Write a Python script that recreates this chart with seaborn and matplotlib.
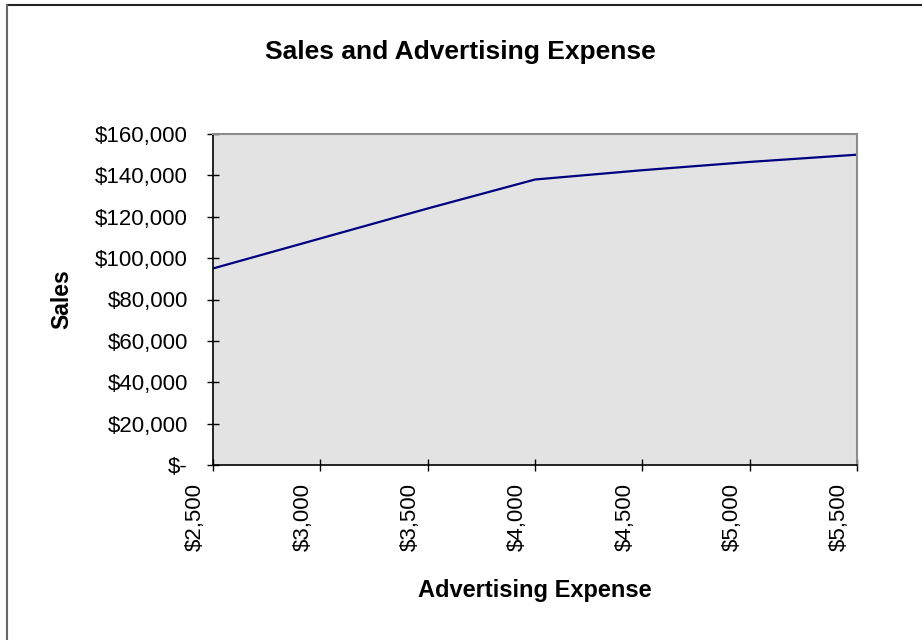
import matplotlib
matplotlib.use("Agg")
import matplotlib.pyplot as plt
from matplotlib.lines import Line2D
from matplotlib.ticker import FuncFormatter
from matplotlib.transforms import ScaledTranslation
import pandas as pd
import seaborn as sns

# Advertising spend and resulting sales
advertising = [2500, 3000, 3500, 4000, 4500, 5000, 5500]
sales = [95000, 109500, 124000, 138000, 142500, 146500, 150000]

x_ticks = [2500, 3000, 3500, 4000, 4500, 5000, 5500]
y_ticks = [0, 20000, 40000, 60000, 80000, 100000, 120000, 140000, 160000]

df = pd.DataFrame({"Advertising Expense": advertising, "Sales": sales})

sns.set_style("white")
plt.rcParams["font.family"] = ["Liberation Sans", "DejaVu Sans"]
plt.rcParams["text.color"] = "black"
plt.rcParams["axes.labelcolor"] = "black"
plt.rcParams["xtick.color"] = "black"
plt.rcParams["ytick.color"] = "black"

fig = plt.figure(figsize=(9.22, 6.40), dpi=100)
ax = fig.add_axes([213 / 922, 1 - 465 / 640, (857 - 213) / 922, (465 - 134) / 640])
ax.set_facecolor("#e3e3e3")

sns.lineplot(data=df, x="Advertising Expense", y="Sales", ax=ax,
             color="#000080", linewidth=1.6)

ax.set_xlim(2500, 5500)
ax.set_ylim(0, 160000)
ax.set_xticks(x_ticks)
ax.set_yticks(y_ticks)


def dollars(v, _pos):
    return "$-" if v == 0 else f"${v:,.0f}"


ax.xaxis.set_major_formatter(FuncFormatter(dollars))
ax.yaxis.set_major_formatter(FuncFormatter(dollars))
ax.tick_params(axis="x", labelsize=16, direction="inout", labelcolor="black",
               length=8, width=1, color="black", pad=9)
ax.tick_params(axis="y", labelsize=16, direction="inout", labelcolor="black",
               length=8, width=1, color="black", pad=14)
ax.xaxis.set_ticks_position("bottom")
ax.yaxis.set_ticks_position("left")

# Rotated x labels sit just left of their tick marks
shift = ScaledTranslation(-7 / 100, 0, fig.dpi_scale_trans)
for lbl in ax.get_xticklabels():
    lbl.set_rotation(90)
    lbl.set_ha("right")
    lbl.set_va("top")
    lbl.set_transform(lbl.get_transform() + shift)

for side in ("left", "bottom"):
    ax.spines[side].set_color("black")
    ax.spines[side].set_linewidth(1.2)
for side in ("top", "right"):
    ax.spines[side].set_color("#8c8c8c")
    ax.spines[side].set_linewidth(1.5)

ax.set_xlabel("Advertising Expense", fontsize=17, fontweight="bold", color="black")
ax.set_ylabel("Sales", fontsize=16.5, fontweight="bold", color="black")
ax.xaxis.set_label_coords((535 - 213) / 644, (465 - 590) / 331)
ax.yaxis.set_label_coords((62 - 213) / 644, 0.5)
ax.xaxis.label.set_va("center")
ax.yaxis.label.set_va("center")

fig.text(460 / 922, 1 - 52 / 640, "Sales and Advertising Expense",
         ha="center", va="center", fontsize=19, fontweight="bold", color="black")

# Chart-area frame (top and left edges)
fig.add_artist(Line2D([7 / 922, 1.0], [1 - 5 / 640, 1 - 5 / 640],
                      transform=fig.transFigure, color="#222222", linewidth=1.5))
fig.add_artist(Line2D([7 / 922, 7 / 922], [0.0, 1 - 5 / 640],
                      transform=fig.transFigure, color="#666666", linewidth=1.5))

fig.savefig("out.png", dpi=100, facecolor="white")
